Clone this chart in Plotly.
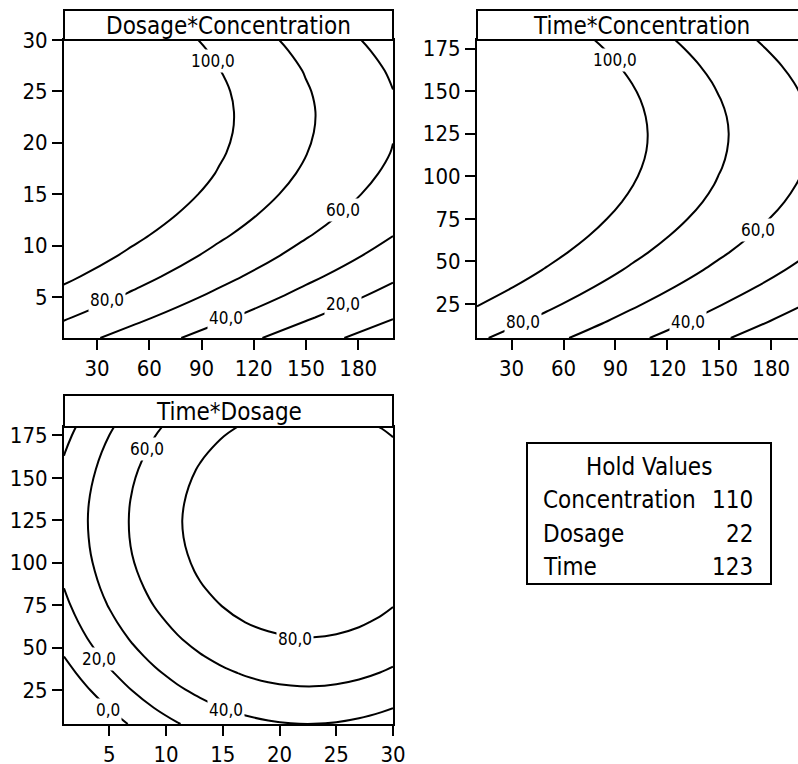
import plotly.graph_objects as go

W, H = 798, 764
FONT = "DejaVu Sans Condensed, DejaVu Sans, sans-serif"

# ---------------- data ----------------
levels = [0, 20, 40, 60, 80, 100]

# Panel 1: Dosage (y) vs Concentration (x), Time held
conc_nodes = [10, 50, 100, 150, 200]
dosage_nodes = [1, 3, 5, 7, 9, 11, 13, 15, 17, 19, 21, 23, 25, 27, 29, 30]
z_dosage_conc = [
    [69.4, 52.2, 30.7, 9.3, -11.8],
    [82.4, 65.2, 43.7, 22.2, 1.1],
    [94.1, 76.9, 55.4, 33.9, 12.8],
    [104.5, 87.3, 65.8, 44.3, 23.2],
    [113.6, 96.4, 74.9, 53.5, 32.4],
    [121.5, 104.3, 82.8, 61.4, 40.3],
    [128.2, 111.0, 89.5, 68.0, 46.9],
    [133.6, 116.4, 94.9, 73.4, 52.3],
    [137.7, 120.5, 99.0, 77.5, 56.4],
    [140.5, 123.3, 101.8, 80.4, 59.3],
    [142.1, 124.9, 103.4, 81.9, 60.8],
    [142.4, 125.2, 103.7, 82.3, 61.2],
    [141.5, 124.3, 102.8, 81.3, 60.2],
    [139.2, 122.0, 100.5, 79.1, 58.0],
    [135.8, 118.6, 97.1, 75.6, 54.5],
    [133.6, 116.4, 94.9, 73.4, 52.3],
]

# Panel 2: Time (y) vs Concentration (x), Dosage held
time_nodes = [5, 15, 25, 35, 45, 55, 65, 75, 85, 95, 105, 115, 125, 135,
              145, 155, 165, 175, 180]
z_time_conc = [
    [82.9, 65.7, 44.2, 22.8, 1.7],
    [92.5, 75.3, 53.8, 32.4, 11.3],
    [101.2, 84.0, 62.5, 41.1, 20.0],
    [109.1, 91.9, 70.4, 49.0, 27.9],
    [116.2, 99.0, 77.5, 56.1, 35.0],
    [122.4, 105.2, 83.7, 62.3, 41.2],
    [127.8, 110.6, 89.1, 67.6, 46.5],
    [132.3, 115.1, 93.6, 72.2, 51.1],
    [136.0, 118.8, 97.3, 75.9, 54.8],
    [138.9, 121.7, 100.2, 78.7, 57.6],
    [140.9, 123.7, 102.2, 80.7, 59.6],
    [142.1, 124.9, 103.4, 81.9, 60.8],
    [142.4, 125.2, 103.7, 82.3, 61.2],
    [141.9, 124.7, 103.2, 81.8, 60.7],
    [140.6, 123.4, 101.9, 80.4, 59.3],
    [138.4, 121.2, 99.7, 78.2, 57.1],
    [135.3, 118.1, 96.6, 75.2, 54.1],
    [131.5, 114.3, 92.8, 71.3, 50.2],
    [129.2, 112.0, 90.5, 69.1, 48.0],
]

# Panel 3: Time (y) vs Dosage (x), Concentration held
z_time_dosage = [
    [-33.1, -20.1, -8.4, 2.0, 11.2, 19.1, 25.7, 31.1, 35.2, 38.0, 39.6, 39.9, 39.0, 36.8, 33.3, 31.1],
    [-23.5, -10.5, 1.2, 11.6, 20.8, 28.7, 35.3, 40.7, 44.8, 47.6, 49.2, 49.5, 48.6, 46.4, 42.9, 40.7],
    [-14.8, -1.8, 9.9, 20.3, 29.5, 37.4, 44.0, 49.4, 53.5, 56.4, 57.9, 58.3, 57.3, 55.1, 51.6, 49.4],
    [-6.9, 6.1, 17.8, 28.2, 37.4, 45.3, 51.9, 57.3, 61.4, 64.2, 65.8, 66.1, 65.2, 63.0, 59.5, 57.3],
    [0.2, 13.2, 24.9, 35.3, 44.4, 52.3, 59.0, 64.4, 68.5, 71.3, 72.9, 73.2, 72.3, 70.0, 66.6, 64.4],
    [6.4, 19.4, 31.1, 41.5, 50.7, 58.6, 65.2, 70.6, 74.7, 77.5, 79.1, 79.4, 78.5, 76.3, 72.8, 70.6],
    [11.8, 24.8, 36.4, 46.9, 56.0, 63.9, 70.6, 75.9, 80.1, 82.9, 84.5, 84.8, 83.8, 81.6, 78.2, 75.9],
    [16.3, 29.3, 41.0, 51.4, 60.6, 68.5, 75.1, 80.5, 84.6, 87.4, 89.0, 89.3, 88.4, 86.2, 82.7, 80.5],
    [20.0, 33.0, 44.7, 55.1, 64.3, 72.2, 78.8, 84.2, 88.3, 91.1, 92.7, 93.0, 92.1, 89.9, 86.4, 84.2],
    [22.9, 35.8, 47.5, 58.0, 67.1, 75.0, 81.7, 87.0, 91.1, 94.0, 95.6, 95.9, 94.9, 92.7, 89.2, 87.0],
    [24.9, 37.9, 49.5, 60.0, 69.1, 77.0, 83.7, 89.0, 93.2, 96.0, 97.6, 97.9, 96.9, 94.7, 91.3, 89.0],
    [26.1, 39.0, 50.7, 61.2, 70.3, 78.2, 84.9, 90.2, 94.3, 97.2, 98.8, 99.1, 98.1, 95.9, 92.4, 90.2],
    [26.4, 39.4, 51.1, 61.5, 70.7, 78.6, 85.2, 90.6, 94.7, 97.5, 99.1, 99.4, 98.5, 96.3, 92.8, 90.6],
    [25.9, 38.9, 50.6, 61.0, 70.1, 78.0, 84.7, 90.1, 94.2, 97.0, 98.6, 98.9, 98.0, 95.7, 92.3, 90.1],
    [24.6, 37.5, 49.2, 59.6, 68.8, 76.7, 83.3, 88.7, 92.8, 95.7, 97.2, 97.6, 96.6, 94.4, 90.9, 88.7],
    [22.4, 35.3, 47.0, 57.5, 66.6, 74.5, 81.2, 86.5, 90.6, 93.5, 95.1, 95.4, 94.4, 92.2, 88.7, 86.5],
    [19.4, 32.3, 44.0, 54.4, 63.6, 71.5, 78.1, 83.5, 87.6, 90.5, 92.0, 92.4, 91.4, 89.2, 85.7, 83.5],
    [15.5, 28.5, 40.1, 50.6, 59.7, 67.6, 74.3, 79.6, 83.8, 86.6, 88.2, 88.5, 87.5, 85.3, 81.9, 79.6],
    [13.2, 26.2, 37.9, 48.3, 57.5, 65.4, 72.0, 77.4, 81.5, 84.3, 85.9, 86.2, 85.3, 83.1, 79.6, 77.4],
]

panel_titles = ["Dosage*Concentration", "Time*Concentration", "Time*Dosage"]

# contour labels (text, x, y) per panel
labels_p1 = [("100,0", 96.8, 28.0), ("80,0", 35.6, 4.7), ("60,0", 171.3, 13.5),
             ("40,0", 103.9, 2.9), ("20,0", 171.3, 4.3)]
labels_p2 = [("100,0", 89.5, 168.2), ("80,0", 36.6, 14.6), ("60,0", 172.6, 68.4),
             ("40,0", 132.2, 14.6)]
labels_p3 = [("60,0", 8.3, 167.3), ("80,0", 21.4, 55.2), ("20,0", 4.1, 43.2),
             ("40,0", 15.3, 13.0), ("0,0", 4.9, 13.0)]

hold_names = ["Concentration", "Dosage", "Time"]
hold_values = [110, 22, 123]

conc_ticks = [30, 60, 90, 120, 150, 180]
dosage_ticks_y = [5, 10, 15, 20, 25, 30]
time_ticks = [25, 50, 75, 100, 125, 150, 175]
dosage_ticks_x = [5, 10, 15, 20, 25, 30]

# ---------------- layout geometry (pixels) ----------------
def px(x):
    return x / W

def py(y):
    return 1 - y / H

# plot areas: (left, right, top, bottom, title-bar top) in px
P1 = (64, 393, 40, 338, 10)
P2 = (477, 798, 40, 338, 10)
P3 = (64, 393, 427, 724, 395)

fig = go.Figure()

contour_style = dict(
    autocontour=False,
    contours=dict(start=levels[0], end=levels[-1], size=levels[1] - levels[0],
                  coloring="none", showlabels=False),
    line=dict(color="black", width=2, smoothing=1.0),
    showscale=False,
    hoverinfo="skip",
)

fig.add_trace(go.Contour(x=conc_nodes, y=dosage_nodes, z=z_dosage_conc,
                         xaxis="x", yaxis="y", **contour_style))
fig.add_trace(go.Contour(x=conc_nodes, y=time_nodes, z=z_time_conc,
                         xaxis="x2", yaxis="y2", **contour_style))
fig.add_trace(go.Contour(x=dosage_nodes, y=time_nodes, z=z_time_dosage,
                         xaxis="x3", yaxis="y3", **contour_style))

tickfont = dict(family=FONT, size=22, color="black")
axis_common = dict(showline=True, linecolor="black", linewidth=2,
                   ticks="outside", ticklen=10, tickwidth=2, tickcolor="black",
                   showgrid=False, zeroline=False, tickfont=tickfont,
                   ticklabelstandoff=0, fixedrange=True, automargin=False)

fig.update_layout(
    xaxis=dict(domain=[px(P1[0]), px(P1[1])], range=[11, 200], tickvals=conc_ticks,
               anchor="y", mirror=True, **axis_common),
    yaxis=dict(domain=[py(P1[3]), py(P1[2])], range=[1, 30], tickvals=dosage_ticks_y,
               anchor="x", mirror=True, **axis_common),
    xaxis2=dict(domain=[px(P2[0]), 1.0], range=[10, 195.5], tickvals=conc_ticks,
                anchor="y2", mirror=True, **axis_common),
    yaxis2=dict(domain=[py(P2[3]), py(P2[2])], range=[5, 180], tickvals=time_ticks,
                anchor="x2", mirror=False, **axis_common),
    xaxis3=dict(domain=[px(P3[0]), px(P3[1])], range=[1, 30], tickvals=dosage_ticks_x,
                anchor="y3", mirror=True, **axis_common),
    yaxis3=dict(domain=[py(P3[3]), py(P3[2])], range=[5, 180], tickvals=time_ticks,
                anchor="x3", mirror=True, **axis_common),
)

shapes = []
annotations = []

# title bars
for (l, r, t, b, tt), title, full_r in zip([P1, P2, P3], panel_titles, [393, 806, 393]):
    shapes.append(dict(type="rect", xref="paper", yref="paper",
                       x0=px(l), x1=px(full_r + 4 if full_r > W else r),
                       y0=py(t), y1=py(tt),
                       line=dict(color="black", width=2), fillcolor="white", layer="above"))
    annotations.append(dict(xref="paper", yref="paper", x=px((l + full_r) / 2),
                            y=py((t + tt) / 2 + 1), text=title, showarrow=False,
                            xanchor="center", yanchor="middle",
                            font=dict(family=FONT, size=24, color="black")))

# contour labels
for labs, xr, yr in [(labels_p1, "x", "y"), (labels_p2, "x2", "y2"), (labels_p3, "x3", "y3")]:
    for text, lx, ly in labs:
        annotations.append(dict(xref=xr, yref=yr, x=lx, y=ly, text=text, showarrow=False,
                                xanchor="center", yanchor="middle", bgcolor="white",
                                borderpad=1,
                                font=dict(family=FONT, size=17, color="black")))

# hold values box
bx0, bx1, by0, by1 = 527, 771, 443, 584
shapes.append(dict(type="rect", xref="paper", yref="paper",
                   x0=px(bx0), x1=px(bx1), y0=py(by1), y1=py(by0),
                   line=dict(color="black", width=2), fillcolor="rgba(0,0,0,0)"))
annotations.append(dict(xref="paper", yref="paper", x=px((bx0 + bx1) / 2), y=py(467),
                        text="Hold Values", showarrow=False, xanchor="center",
                        yanchor="middle", font=dict(family=FONT, size=24, color="black")))
for i, (name, val) in enumerate(zip(hold_names, hold_values)):
    yy = 500 + i * 33.5
    annotations.append(dict(xref="paper", yref="paper", x=px(541), y=py(yy), text=name,
                            showarrow=False, xanchor="left", yanchor="middle",
                            font=dict(family=FONT, size=24, color="black")))
    annotations.append(dict(xref="paper", yref="paper", x=px(755), y=py(yy), text=str(val),
                            showarrow=False, xanchor="right", yanchor="middle",
                            font=dict(family=FONT, size=24, color="black")))

fig.update_layout(
    width=W, height=H,
    margin=dict(l=0, r=0, t=0, b=0, autoexpand=False),
    paper_bgcolor="white", plot_bgcolor="white",
    showlegend=False,
    shapes=shapes, annotations=annotations,
    font=dict(family=FONT, color="black"),
)

fig.write_html(
    "out.html",
    config={"displayModeBar": False},
    post_script="document.body.style.margin='0px';document.body.style.overflow='hidden';",
)
